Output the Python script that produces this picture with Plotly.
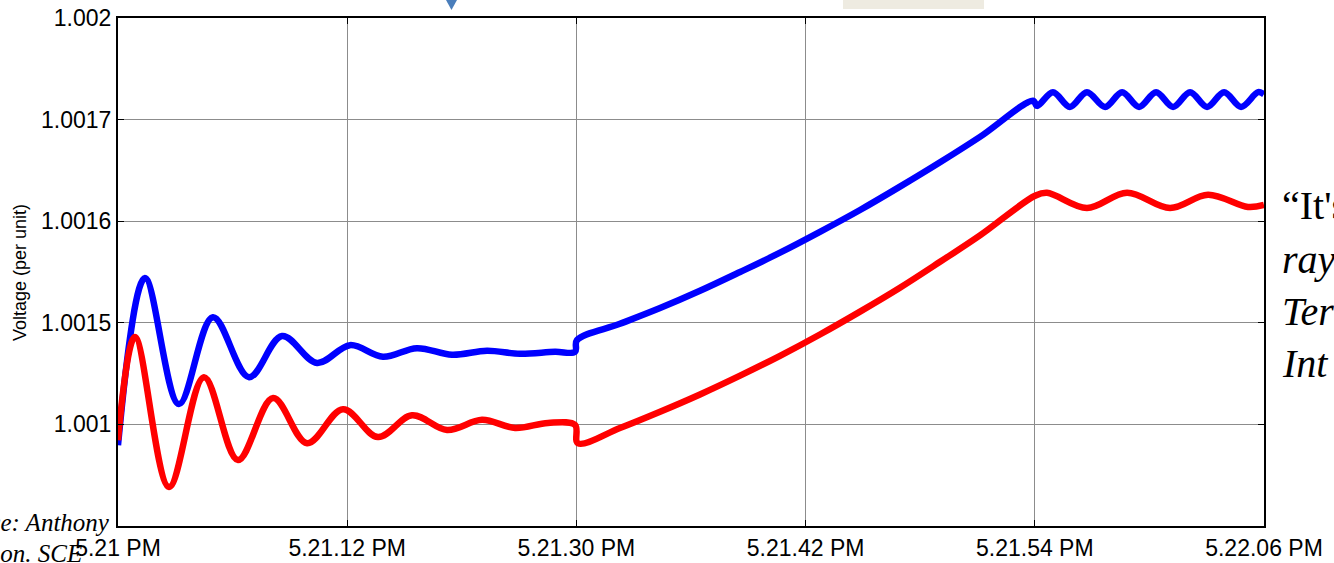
import plotly.graph_objects as go

# x: seconds from start; y: voltage (per unit, axis scale)
blue_t = [0.0, 1.41, 3.19, 4.97, 6.86, 8.59, 10.42, 12.15, 13.87, 15.65, 17.49, 19.32,
          21.05, 22.88, 23.93, 24.03, 26.28, 28.38, 30.47, 32.57, 34.66, 36.75, 38.85,
          40.94, 43.04, 45.13, 47.91, 48.12, 48.95, 49.84, 50.73, 51.68, 52.57, 53.46,
          54.35, 55.24, 56.13, 57.02, 57.91, 58.80, 59.69, 60.0]
blue_v = [1.001159, 1.001488, 1.001240, 1.001411, 1.001293, 1.001374, 1.001321, 1.001356,
          1.001333, 1.001350, 1.001337, 1.001345, 1.001339, 1.001343, 1.001343, 1.001366,
          1.001398, 1.001429, 1.001463, 1.001500, 1.001538, 1.001579, 1.001622, 1.001668,
          1.001716, 1.001766, 1.001837, 1.001827, 1.001854, 1.001825, 1.001854, 1.001825,
          1.001854, 1.001825, 1.001854, 1.001825, 1.001854, 1.001825, 1.001854, 1.001825,
          1.001854, 1.001850]

red_t = [0.0, 0.89, 2.67, 4.50, 6.28, 8.12, 9.90, 11.78, 13.61, 15.39, 17.23, 19.06,
         20.79, 22.51, 23.93, 24.08, 26.28, 28.38, 30.47, 32.57, 34.66, 36.75, 38.85,
         40.94, 43.04, 45.13, 48.01, 48.64, 50.73, 52.83, 55.08, 57.07, 59.16, 60.0]
red_v = [1.001169, 1.001372, 1.001077, 1.001293, 1.001130, 1.001252, 1.001163, 1.001230,
         1.001175, 1.001218, 1.001189, 1.001209, 1.001193, 1.001203, 1.001199, 1.001163,
         1.001193, 1.001225, 1.001259, 1.001296, 1.001335, 1.001377, 1.001422, 1.001469,
         1.001520, 1.001572, 1.001650, 1.001656, 1.001626, 1.001656, 1.001626, 1.001652,
         1.001628, 1.001632]

x_tickvals = [0, 12, 24, 36, 48, 60]
x_ticktext = ["5.21 PM", "5.21.12 PM", "5.21.30 PM", "5.21.42 PM", "5.21.54 PM", "5.22.06 PM"]
y_tickvals = [1.001, 1.0012, 1.0014, 1.0016, 1.0018, 1.002]
y_ticktext = ["", "1.001", "1.0015", "1.0016", "1.0017", "1.002"]

fig = go.Figure()
fig.add_trace(go.Scatter(x=blue_t, y=blue_v, mode="lines",
                         line=dict(color="#0000ff", width=6.5, shape="spline", smoothing=1.0),
                         showlegend=False, hoverinfo="skip"))
fig.add_trace(go.Scatter(x=red_t, y=red_v, mode="lines",
                         line=dict(color="#ff0000", width=6.5, shape="spline", smoothing=1.0),
                         showlegend=False, hoverinfo="skip"))

tickfont = dict(family="Liberation Sans, Arial, sans-serif", size=23, color="#000000")
axis_common = dict(showline=True, linecolor="#000000", linewidth=2, mirror="ticks",
                   ticks="inside", ticklen=6, tickcolor="#000000", tickwidth=1,
                   showgrid=True, gridcolor="#8c8c8c", gridwidth=1, zeroline=False,
                   tickfont=tickfont, automargin=False)

fig.update_xaxes(range=[0, 60], tickmode="array", tickvals=x_tickvals, ticktext=x_ticktext,
                 **axis_common)
fig.update_yaxes(range=[1.001, 1.002], tickmode="array", tickvals=y_tickvals,
                 ticktext=y_ticktext, **axis_common)

serif = "Liberation Serif, Times New Roman, serif"
annotations = [
    dict(text="Voltage (per unit)", xref="paper", yref="paper", x=-98 / 1146, y=(526 - 273) / 508,
         textangle=-90, showarrow=False, xanchor="center", yanchor="middle",
         font=dict(family="Liberation Sans, Arial, sans-serif", size=18, color="#000000")),
    dict(text="“It's", xref="paper", yref="paper", x=(1280 - 118) / 1146, y=(526 - 205) / 508,
         showarrow=False, xanchor="left", yanchor="middle",
         font=dict(family=serif, size=40, color="#000000")),
    dict(text="<i>rays</i>", xref="paper", yref="paper", x=(1280 - 118) / 1146, y=(526 - 259) / 508,
         showarrow=False, xanchor="left", yanchor="middle",
         font=dict(family=serif, size=40, color="#000000")),
    dict(text="<i>Terr</i>", xref="paper", yref="paper", x=(1280 - 118) / 1146, y=(526 - 311) / 508,
         showarrow=False, xanchor="left", yanchor="middle",
         font=dict(family=serif, size=40, color="#000000")),
    dict(text="<i>Int</i>", xref="paper", yref="paper", x=(1280 - 118) / 1146, y=(526 - 363) / 508,
         showarrow=False, xanchor="left", yanchor="middle",
         font=dict(family=serif, size=40, color="#000000")),
    dict(text="<i>Source: Anthony</i>", xref="paper", yref="paper", x=(112 - 118) / 1146,
         y=(526 - 522) / 508, showarrow=False, xanchor="right", yanchor="middle",
         font=dict(family=serif, size=25, color="#000000")),
    dict(text="<i>Johnson. SCE</i>", xref="paper", yref="paper", x=(84 - 118) / 1146,
         y=(526 - 553) / 508, showarrow=False, xanchor="right", yanchor="middle",
         font=dict(family=serif, size=25, color="#000000")),
]

shapes = [
    dict(type="path", xref="paper", yref="paper",
         path="M 0.2862 1.0354 L 0.2958 1.0354 L 0.2910 1.0157 Z",
         fillcolor="#4a7ebb", line=dict(width=0), layer="above"),
    dict(type="rect", xref="paper", yref="paper", x0=0.6326, x1=0.7557, y0=1.0177, y1=1.04,
         fillcolor="#eeebe1", line=dict(width=0), layer="above"),
]

fig.update_layout(width=1334, height=563, margin=dict(l=118, r=70, t=18, b=37),
                  plot_bgcolor="#ffffff", paper_bgcolor="#ffffff",
                  annotations=annotations, shapes=shapes, showlegend=False)

fig.write_html("out.html", config={"displayModeBar": False},
               post_script="document.body.style.margin='0';document.body.style.overflow='hidden';")
